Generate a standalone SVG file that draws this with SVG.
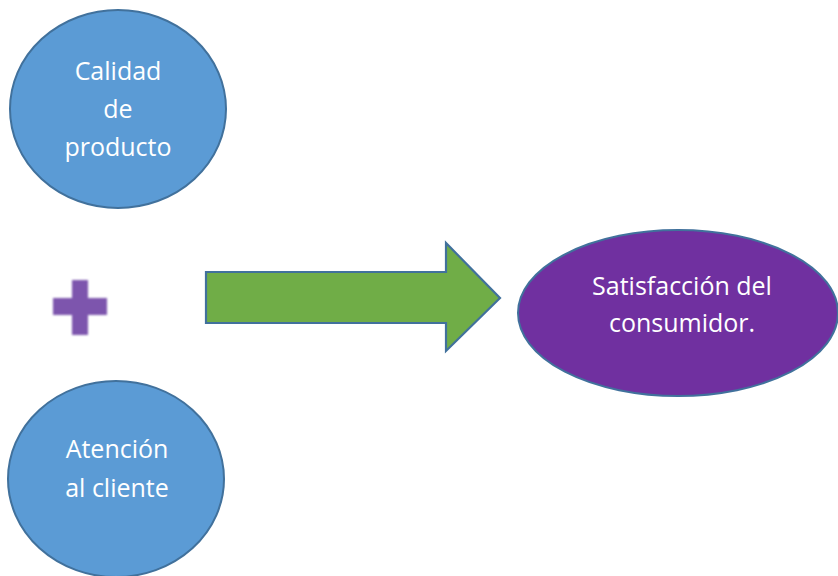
<svg xmlns="http://www.w3.org/2000/svg" width="838" height="576" viewBox="0 0 838 576">
<style>
.lbl{font-family:"Open Sans","Liberation Sans",sans-serif;font-size:25px;fill:#ffffff;text-anchor:middle}
.circ{fill:#5b9bd5;stroke:#41719c;stroke-width:2}
</style>
<defs>
<filter id="blur" x="-20%" y="-20%" width="140%" height="140%"><feGaussianBlur stdDeviation="0.8"/></filter>
</defs>
<rect width="838" height="576" fill="#ffffff"/>
<g id="calidad">
<ellipse class="circ" cx="118" cy="109" rx="108" ry="99"/>
<text class="lbl" x="118" y="80">Calidad</text>
<text class="lbl" x="118" y="118">de</text>
<text class="lbl" x="118" y="156">producto</text>
</g>
<g id="plus" filter="url(#blur)">
<path d="M72 280 H88 V298 H107 V315 H88 V335 H72 V315 H53 V298 H72 Z" fill="#7d55ad"/>
</g>
<g id="atencion">
<ellipse class="circ" cx="116" cy="479" rx="108" ry="98"/>
<text class="lbl" x="117" y="458">Atención</text>
<text class="lbl" x="117" y="497">al cliente</text>
</g>
<g id="connectors">
<path d="M206 272 H446 V243 L500 298 L446 351 V323 H206 Z" fill="#70ad47" stroke="#41719c" stroke-width="2.2" stroke-linejoin="miter"/>
</g>
<g id="satisfaccion">
<ellipse cx="678" cy="313" rx="160" ry="83" fill="#7030a0" stroke="#41719c" stroke-width="2"/>
<text class="lbl" x="682" y="295">Satisfacción del</text>
<text class="lbl" x="682" y="332">consumidor.</text>
</g>
</svg>
